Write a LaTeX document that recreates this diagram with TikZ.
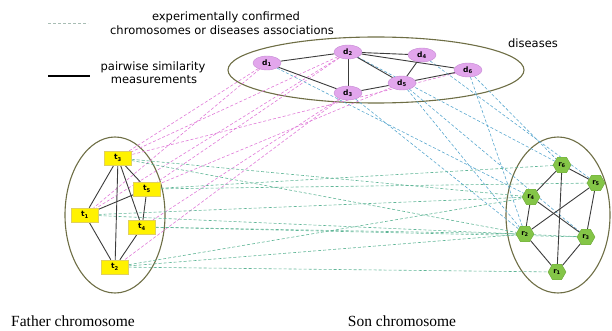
\documentclass[tikz,border=0pt]{standalone}
\usepackage{fontspec}
\setmainfont{Liberation Serif}
\newfontfamily\legfont{DejaVu Sans}
\usetikzlibrary{shapes.geometric}
\pgfdeclarelayer{bg}
\pgfsetlayers{bg,main}
\definecolor{pinkfill}{HTML}{E2A6EC}
\definecolor{pinkdraw}{HTML}{C58BD3}
\definecolor{pinkline}{HTML}{E07AD8}
\definecolor{blueline}{HTML}{5AA8CF}
\definecolor{greenline}{HTML}{5FB596}
\definecolor{yelfill}{HTML}{FFF200}
\definecolor{yeldraw}{HTML}{E0D060}
\definecolor{grnfill}{HTML}{84C547}
\definecolor{grndraw}{HTML}{6CA83A}
\definecolor{ellcol}{HTML}{6E6E45}
\definecolor{edgecol}{HTML}{3C3C3C}
\definecolor{legdash}{HTML}{A8BDB4}
\begin{document}
\begin{tikzpicture}[x=1pt,y=-1pt,
  dnode/.style={ellipse, draw=pinkdraw, fill=pinkfill, minimum width=28pt, minimum height=14pt, inner sep=0pt, font=\legfont\bfseries\fontsize{7.5}{7.5}\selectfont},
  tnode/.style={rectangle, draw=yeldraw, fill=yelfill, minimum width=27pt, minimum height=14pt, inner sep=0pt, font=\legfont\bfseries\fontsize{7.5}{7.5}\selectfont},
  rnode/.style={regular polygon, regular polygon sides=6, draw=grndraw, fill=grnfill, minimum size=18pt, inner sep=0pt, font=\legfont\bfseries\fontsize{7}{7}\selectfont},
  legtext/.style={font=\legfont\fontsize{11.5}{12}\selectfont, inner sep=0pt},
  captext/.style={font=\fontsize{15.5}{17}\selectfont, inner sep=0pt},
  pinkd/.style={draw=pinkline, dashed, dash pattern=on 3pt off 2pt, line width=0.6pt},
  blued/.style={draw=blueline, dashed, dash pattern=on 3pt off 2pt, line width=0.6pt},
  greend/.style={draw=greenline, dashed, dash pattern=on 3pt off 2pt, line width=0.6pt},
  simedge/.style={draw=edgecol, line width=0.9pt},
  clusell/.style={draw=ellcol, line width=1.1pt}]
\useasboundingbox (0,0) rectangle (612,331);

% legend
\coordinate (la) at (48,23); \coordinate (lb) at (88,23);
\coordinate (lc) at (48,76); \coordinate (ld) at (90,76);
\draw[draw=legdash, dashed, dash pattern=on 3pt off 2pt, line width=0.8pt] (la) -- (lb);
\draw[draw=black, line width=1.2pt] (lc) -- (ld);
\node[legtext] (l1) at (226,17) {experimentally confirmed};
\node[legtext] (l2) at (222,30) {chromosomes or diseases associations};
\node[legtext] (l3) at (153,67) {pairwise similarity};
\node[legtext] (l4) at (154,80) {measurements};
\node[legtext] (l5) at (533,43) {diseases};

% captions
\node[captext] (c1) at (73,321) {Father chromosome};
\node[captext] (c2) at (402,321) {Son chromosome};

% disease nodes
\node[dnode] (d1) at (267,63) {d\textsubscript{1}};
\node[dnode] (d2) at (348,52) {d\textsubscript{2}};
\node[dnode] (d4) at (422,55) {d\textsubscript{4}};
\node[dnode] (d6) at (468,70) {d\textsubscript{6}};
\node[dnode] (d5) at (402,83) {d\textsubscript{5}};
\node[dnode] (d3) at (348,93) {d\textsubscript{3}};

% father nodes
\node[tnode] (t3) at (118,158) {t\textsubscript{3}};
\node[tnode] (t5) at (147,189) {t\textsubscript{5}};
\node[tnode] (t1) at (85,215) {t\textsubscript{1}};
\node[tnode] (t4) at (142,227) {t\textsubscript{4}};
\node[tnode] (t2) at (115,267) {t\textsubscript{2}};

% son nodes
\node[rnode] (r6) at (562,165) {r\textsubscript{6}};
\node[rnode] (r5) at (596,183) {r\textsubscript{5}};
\node[rnode] (r4) at (531,197) {r\textsubscript{4}};
\node[rnode] (r2) at (525,234) {r\textsubscript{2}};
\node[rnode] (r3) at (586,237) {r\textsubscript{3}};
\node[rnode] (r1) at (557,272) {r\textsubscript{1}};

\begin{pgfonlayer}{bg}
\draw[clusell] (376,70) ellipse [x radius=148pt, y radius=33pt];
\draw[clusell] (115,215) ellipse [x radius=50pt, y radius=78pt];
\draw[clusell] (558,215) ellipse [x radius=52pt, y radius=78pt];

% pink: diseases - father
\foreach \a/\b in {d1/t3,d1/t1,d2/t3,d2/t5,d2/t1,d5/t5,d6/t3,d3/t2,d3/t4}
  \draw[pinkd] (\a) -- (\b);
% blue: diseases - son
\foreach \a/\b in {d1/r4,d3/r2,d2/r6,d5/r2,d5/r3,d6/r6,d6/r2,d4/r5}
  \draw[blued] (\a) -- (\b);
% green: father - son
\foreach \a/\b in {t3/r4,t3/r2,t5/r6,t5/r5,t1/r4,t1/r3,t4/r2,t4/r3,t2/r4,t2/r2,t2/r1}
  \draw[greend] (\a) -- (\b);

% similarity edges
\foreach \a/\b in {d1/d2,d1/d3,d2/d3,d2/d4,d2/d5,d2/d6,d4/d5,d5/d6,d3/d5,
                   t3/t1,t3/t5,t3/t4,t3/t2,t1/t5,t1/t2,t5/t4,t4/t2,
                   r6/r5,r6/r4,r6/r1,r4/r2,r4/r3,r5/r2,r5/r3,r2/r1,r3/r1}
  \draw[simedge] (\a) -- (\b);
\end{pgfonlayer}
\end{tikzpicture}
\end{document}
